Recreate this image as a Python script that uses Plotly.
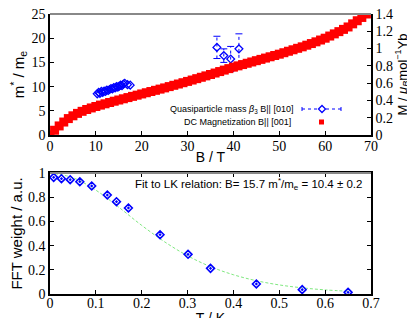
import plotly.graph_objects as go

# ---------------- data ----------------
# DC magnetization (right axis, mu_B / Yb) vs B (T)
mag_B = list(range(0, 70))
mag_M = [0.000, 0.055, 0.105, 0.150, 0.190, 0.222, 0.250, 0.274, 0.295, 0.313,
         0.330, 0.346, 0.361, 0.376, 0.391, 0.405, 0.419, 0.433, 0.447, 0.461,
         0.475, 0.489, 0.503, 0.517, 0.531, 0.545, 0.560, 0.575, 0.590, 0.605,
         0.620, 0.636, 0.652, 0.668, 0.684, 0.700, 0.717, 0.734, 0.751, 0.768,
         0.785, 0.800, 0.815, 0.830, 0.845, 0.860, 0.875, 0.890, 0.905, 0.920,
         0.935, 0.952, 0.969, 0.986, 1.003, 1.020, 1.039, 1.058, 1.078, 1.099,
         1.120, 1.145, 1.170, 1.196, 1.222, 1.250, 1.286, 1.322, 1.360, 1.400]

# quasiparticle mass, low-field cluster
qp_B = [10.3, 10.6, 10.9, 11.2, 11.5, 11.8, 12.1, 12.4, 12.7, 13.0, 13.3, 13.6,
        13.9, 14.2, 14.5, 14.8, 15.1, 15.4, 15.7, 16.0, 16.3, 16.9, 17.5]
qp_m = [8.5, 8.8, 8.6, 9.0, 8.8, 9.1, 9.0, 9.3, 9.2, 9.4, 9.6, 9.5,
        9.8, 9.7, 10.0, 9.9, 10.1, 10.3, 10.2, 10.5, 10.7, 10.4, 10.3]

# quasiparticle mass with error bars, high field
qpe_B = [36.4, 37.9, 39.4, 41.2]
qpe_m = [18.1, 16.4, 15.7, 17.8]
qpe_err = [2.3, 1.4, 2.6, 3.1]

# FFT weight vs temperature
fft_T = [0.008, 0.025, 0.044, 0.065, 0.091, 0.125, 0.145, 0.171, 0.240,
         0.301, 0.350, 0.450, 0.550, 0.650]
fft_W = [0.964, 0.953, 0.945, 0.928, 0.893, 0.818, 0.763, 0.711, 0.490,
         0.328, 0.212, 0.083, 0.036, 0.014]

# LK fit curve
fit_T = [0.0, 0.05, 0.1, 0.15, 0.2, 0.25, 0.3, 0.35, 0.4, 0.45, 0.5, 0.55, 0.6, 0.65]
fit_W = [1.0, 0.961, 0.858, 0.717, 0.567, 0.431, 0.316, 0.226, 0.159, 0.110,
         0.075, 0.051, 0.034, 0.023]

x1_ticks = [0, 10, 20, 30, 40, 50, 60, 70]
y1_ticks = [0, 5, 10, 15, 20, 25]
y2_ticks = [0, 0.2, 0.4, 0.6, 0.8, 1.0, 1.2, 1.4]
x2_ticks = [0, 0.1, 0.2, 0.3, 0.4, 0.5, 0.6, 0.7]
y3_ticks = [0, 0.2, 0.4, 0.6, 0.8, 1.0]

BLUE = "#0000ff"
RED = "#ff0000"
GREEN = "#80e880"
SERIF = "Liberation Serif, Times New Roman, serif"
SANS = "Liberation Sans, Arial, sans-serif"

fig = go.Figure()

# magnetization band
fig.add_trace(go.Scatter(x=mag_B, y=mag_M, mode="markers", xaxis="x", yaxis="y2",
                         marker=dict(symbol="square", size=9, color=RED, line=dict(width=0))))

# error bars (dotted verticals + caps), built from data arrays
ex, ey, capx, capy = [], [], [], []
for b, m, e in zip(qpe_B, qpe_m, qpe_err):
    ex += [b, b, None]
    ey += [m - e, m + e, None]
    capx += [b, b]
    capy += [m - e, m + e]
fig.add_trace(go.Scatter(x=ex, y=ey, mode="lines", xaxis="x", yaxis="y",
                         line=dict(color=BLUE, width=1, dash="dot")))
fig.add_trace(go.Scatter(x=capx, y=capy, mode="markers", xaxis="x", yaxis="y",
                         marker=dict(symbol="line-ew", size=5, line=dict(color=BLUE, width=1))))

fig.add_trace(go.Scatter(x=qp_B, y=qp_m, mode="markers", xaxis="x", yaxis="y",
                         marker=dict(symbol="diamond-open", size=6, color=BLUE,
                                     line=dict(color=BLUE, width=1.3))))
fig.add_trace(go.Scatter(x=qpe_B, y=qpe_m, mode="markers", xaxis="x", yaxis="y",
                         marker=dict(symbol="diamond-open", size=6, color=BLUE,
                                     line=dict(color=BLUE, width=1.3))))

# bottom panel
fig.add_trace(go.Scatter(x=fit_T, y=fit_W, mode="lines", xaxis="x2", yaxis="y3",
                         line=dict(color=GREEN, width=1, dash="3px,2px", shape="spline")))
fig.add_trace(go.Scatter(x=fft_T, y=fft_W, mode="markers", xaxis="x2", yaxis="y3",
                         marker=dict(symbol="diamond-open-dot", size=6, color=BLUE,
                                     line=dict(color=BLUE, width=1.6))))

tickfont = dict(family=SERIF, size=14, color="black")
titlefont = dict(family=SANS, size=15, color="black")
xtitlefont = dict(family=SANS, size=14, color="black")
common = dict(showgrid=False, zeroline=False, showline=True, linecolor="black",
              linewidth=1.5, ticks="inside", ticklen=4, tickwidth=1, tickcolor="black",
              tickfont=tickfont, automargin=False, ticklabeloverflow="allow")

TOP0 = (286 - 127) / 280
BOT1 = (286 - 165) / 280

fig.update_layout(
    width=415, height=318,
    margin=dict(l=42, r=52, t=6, b=32),
    paper_bgcolor="white", plot_bgcolor="white",
    showlegend=False,
    xaxis=dict(domain=[0, 1], anchor="y", range=[0, 70], tickvals=x1_ticks,
               ticklabelstandoff=-3,
               title=dict(text="B / T", font=xtitlefont, standoff=0), **common),
    yaxis=dict(domain=[TOP0, 1], anchor="x", range=[0, 25], tickvals=y1_ticks,
               title=dict(text="m<sup>*</sup> / m<sub>e</sub>", font=titlefont, standoff=4),
               **common),
    yaxis2=dict(overlaying="y", side="right", anchor="x", range=[0, 1.4], tickvals=y2_ticks,
                title=dict(text="M / <i>μ<sub>B</sub></i>mol<sup>−1</sup>Yb",
                           font=dict(family=SANS, size=13, color="black"),
                           standoff=5), **common),
    xaxis2=dict(domain=[0, 1], anchor="y3", range=[0, 0.7], tickvals=x2_ticks, mirror="ticks",
                ticklabelstandoff=-5,
                title=dict(text="T / K", font=xtitlefont, standoff=0), **common),
    yaxis3=dict(domain=[0, BOT1], anchor="x2", range=[0, 1], tickvals=y3_ticks, mirror="ticks",
                title=dict(text="FFT weight / a.u.", font=titlefont, standoff=3), **common),
)

# gray top borders
for yy in (1.0, BOT1):
    fig.add_shape(type="line", xref="paper", yref="paper", x0=0, x1=1, y0=yy, y1=yy,
                  line=dict(color="#888888", width=2))

def px(x):
    return (x - 42) / 321

def py(y):
    return (286 - y) / 280

legfont = dict(family=SANS, size=9, color="black")
fig.add_annotation(xref="paper", yref="paper", x=px(287), y=py(101), xanchor="right",
                   yanchor="middle", showarrow=False, font=legfont,
                   text="Quasiparticle mass <i>β</i><sub>3</sub> B|| [010]")
fig.add_annotation(xref="paper", yref="paper", x=px(285), y=py(114), xanchor="right",
                   yanchor="middle", showarrow=False, font=legfont,
                   text="DC Magnetization B|| [001]")
# legend samples
fig.add_shape(type="line", xref="paper", yref="paper", x0=px(294), x1=px(333),
              y0=py(101), y1=py(101), line=dict(color=BLUE, width=1, dash="dot"))
for xx in (294, 333):
    fig.add_shape(type="line", xref="paper", yref="paper", x0=px(xx), x1=px(xx),
                  y0=py(99), y1=py(103), line=dict(color=BLUE, width=1))
cx, cy = 314, 101
fig.add_shape(type="path", xref="paper", yref="paper",
              path=f"M {px(cx-3.5)} {py(cy)} L {px(cx)} {py(cy-3.5)} L {px(cx+3.5)} {py(cy)} L {px(cx)} {py(cy+3.5)} Z",
              line=dict(color=BLUE, width=1.3), fillcolor="white")
fig.add_shape(type="rect", xref="paper", yref="paper", x0=px(311), x1=px(316),
              y0=py(116.5), y1=py(111.5), line=dict(width=0), fillcolor=RED)

fig.add_annotation(xref="paper", yref="paper", x=px(356), y=py(176), xanchor="right",
                   yanchor="middle", showarrow=False,
                   font=dict(family=SANS, size=11.5, color="black"),
                   text="Fit to LK relation: B= 15.7 m<sup>*</sup>/m<sub>e</sub> = 10.4 ± 0.2")

fig.write_html("out.html")
